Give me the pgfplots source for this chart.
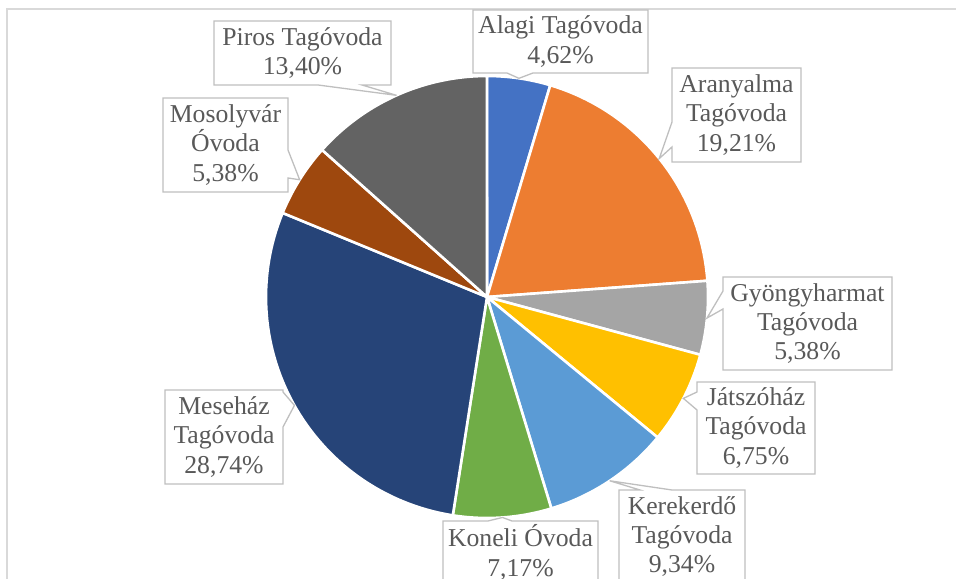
\documentclass[border=0pt]{standalone}
\usepackage{pgfplots}
\pgfplotsset{compat=1.18}
\usepackage{pgfplotstable}
\usepackage{fontspec}
\setmainfont{Liberation Serif}
\definecolor{cA}{HTML}{4472C4}
\definecolor{cB}{HTML}{ED7D31}
\definecolor{cC}{HTML}{A5A5A5}
\definecolor{cD}{HTML}{FFC000}
\definecolor{cE}{HTML}{5B9BD5}
\definecolor{cF}{HTML}{70AD47}
\definecolor{cG}{HTML}{264478}
\definecolor{cH}{HTML}{9E480E}
\definecolor{cI}{HTML}{636363}
\definecolor{labelgray}{HTML}{595959}
\definecolor{boxgray}{HTML}{BFBFBF}
\definecolor{framegray}{HTML}{D9D9D9}

\pgfplotstableread[col sep=comma]{
label,value,color
Alagi Tagóvoda,4.62,cA
Aranyalma Tagóvoda,19.21,cB
Gyöngyharmat Tagóvoda,5.38,cC
Játszóház Tagóvoda,6.75,cD
Kerekerdő Tagóvoda,9.34,cE
Koneli Óvoda,7.17,cF
Meseház Tagóvoda,28.74,cG
Mosolyvár Óvoda,5.38,cH
Piros Tagóvoda,13.40,cI
}\piedata

% pie geometry in pixel units (1px = 1bp), y measured upward in the axis
\def\pcx{487}\def\pcy{282}\def\pr{221}

% callouts: coordinates in pixels, y measured downward
\newcommand\apex[1]{(\csname apx#1\endcsname,\csname apy#1\endcsname)}
\newcommand\callB[7]{\draw[boxgray,fill=white,line width=1.3bp,line join=miter]
  (#1,#2) -- (#3,#2) -- (#3,#4) -- (#6,#4) -- \apex{#7} -- (#5,#4) -- (#1,#4) -- cycle;}
\newcommand\callT[7]{\draw[boxgray,fill=white,line width=1.3bp,line join=miter]
  (#1,#2) -- (#5,#2) -- \apex{#7} -- (#6,#2) -- (#3,#2) -- (#3,#4) -- (#1,#4) -- cycle;}
\newcommand\callL[7]{\draw[boxgray,fill=white,line width=1.3bp,line join=miter]
  (#1,#2) -- (#3,#2) -- (#3,#4) -- (#1,#4) -- (#1,#6) -- \apex{#7} -- (#1,#5) -- cycle;}
\newcommand\callR[7]{\draw[boxgray,fill=white,line width=1.3bp,line join=miter]
  (#1,#2) -- (#3,#2) -- (#3,#5) -- \apex{#7} -- (#3,#6) -- (#3,#4) -- (#1,#4) -- cycle;}
\newcommand\lab[3]{\node[align=center,text=labelgray,inner sep=0pt,
  font=\fontsize{25.8}{29.5}\selectfont] at (#1,#2) {#3};}

\begin{document}
\begin{tikzpicture}
\useasboundingbox (0,0) rectangle (956bp,579bp);
\clip (0,0) rectangle (956bp,579bp);
\begin{axis}[
  at={(0,0)}, anchor=south west,
  width=956bp, height=579bp, scale only axis,
  xmin=0, xmax=956, ymin=0, ymax=579,
  hide axis, clip=false,
]
\pgfplotstablegetrowsof{\piedata}
\pgfmathtruncatemacro\nrows{\pgfplotsretval-1}
\gdef\cum{0}
\pgfplotsforeachungrouped \i in {0,...,\nrows}{%
  \pgfplotstablegetelem{\i}{value}\of\piedata
  \let\val\pgfplotsretval
  \pgfplotstablegetelem{\i}{color}\of\piedata
  \let\col\pgfplotsretval
  \pgfmathsetmacro\sa{90-3.6*\cum}%
  \pgfmathsetmacro\sb{90-3.6*(\cum+\val)}%
  \pgfmathsetmacro\sm{90-3.6*(\cum+\val/2)}%
  \pgfmathsetmacro\newcum{\cum+\val}%
  \xdef\cum{\newcum}%
  \pgfmathsetmacro\ax{\pcx+\pr*cos(\sm)}%
  \pgfmathsetmacro\ay{579-\pcy-\pr*sin(\sm)}%
  \expandafter\xdef\csname apx\i\endcsname{\ax}%
  \expandafter\xdef\csname apy\i\endcsname{\ay}%
  \edef\doplot{\noexpand\addplot[fill=\col, draw=white, line width=2.6bp,
    line join=round, domain=\sb:\sa, samples=100]
    ({\pcx+\pr*cos(x)},{\pcy+\pr*sin(x)}) -- (axis cs:\pcx,\pcy) -- cycle;}%
  \doplot
}
\end{axis}
\begin{scope}[x=1bp,y=-1bp,shift={(0,579bp)}]
  \draw[framegray,line width=1.5bp] (7,590) -- (7,9) -- (960,9);
  % Alagi
  \callB{473}{10}{648}{73}{507}{533}{0}
  \lab{560.5}{41.5}{Alagi Tagóvoda\\4,62\%}
  % Aranyalma
  \callL{672}{68}{801}{162}{122}{147}{1}
  \lab{736.5}{115}{Aranyalma\\Tagóvoda\\19,21\%}
  % Gyongyharmat
  \callL{723}{277}{892}{370}{291}{309}{2}
  \lab{807.5}{323.5}{Gyöngyharmat\\Tagóvoda\\5,38\%}
  % Jatszohaz
  \callL{697}{382}{815}{474}{392}{410}{3}
  \lab{756}{428}{Játszóház\\Tagóvoda\\6,75\%}
  % Kerekerdo
  \callT{619}{490}{745}{583}{640}{672}{4}
  \lab{682}{536.5}{Kerekerdő\\Tagóvoda\\9,34\%}
  % Koneli
  \callT{443}{521}{598}{584}{488}{512}{5}
  \lab{520.5}{552.5}{Koneli Óvoda\\7,17\%}
  % Mesehaz
  \callR{165}{390}{283}{484}{392}{427}{6}
  \lab{224}{437}{Meseház\\Tagóvoda\\28,74\%}
  % Mosolyvar
  \callR{163}{98}{288}{192}{150}{178}{7}
  \lab{225.5}{145}{Mosolyvár\\Óvoda\\5,38\%}
  % Piros
  \callB{214}{21}{391}{85}{318}{362}{8}
  \lab{302.5}{53}{Piros Tagóvoda\\13,40\%}
\end{scope}
\end{tikzpicture}
\end{document}
